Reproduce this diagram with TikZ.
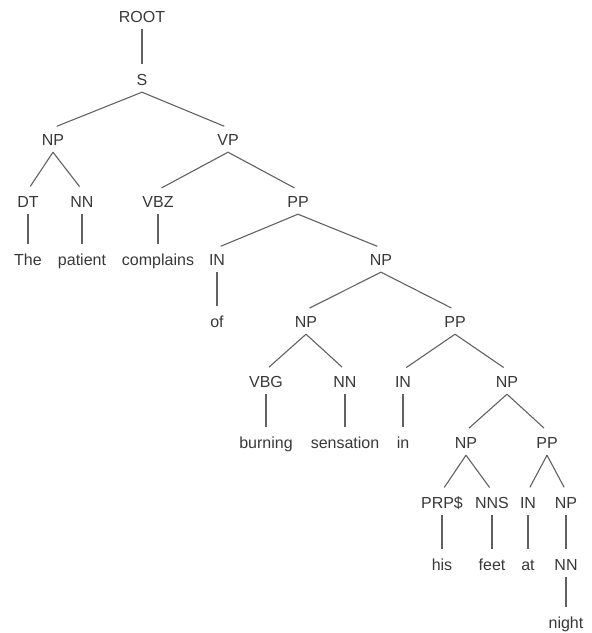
\documentclass[tikz,border=0pt]{standalone}
\usepackage{fontspec}
\setmainfont{Liberation Sans}
\begin{document}
\begin{tikzpicture}[x=1pt,y=-1pt,
  lbl/.style={inner xsep=0pt,inner ysep=6.5pt,text height=11pt,text depth=0pt,
    font=\fontsize{16}{18}\selectfont,text=black!78},
  edge/.style={draw=black!62,line width=1.1pt,shorten >=4pt}]
\useasboundingbox (0,0) rectangle (592,633);
\node[lbl] (root) at (142,17) {ROOT};
\node[lbl] (s) at (142,80) {S};
\node[lbl] (np1) at (53,140) {NP};
\node[lbl] (vp) at (228,140) {VP};
\node[lbl] (dt) at (28,202) {DT};
\node[lbl] (nn1) at (82,202) {NN};
\node[lbl] (vbz) at (158,202) {VBZ};
\node[lbl] (pp1) at (298,202) {PP};
\node[lbl] (the) at (28,260) {The};
\node[lbl] (patient) at (82,260) {patient};
\node[lbl] (complains) at (158,260) {complains};
\node[lbl] (in1) at (217,260) {IN};
\node[lbl] (np2) at (381,260) {NP};
\node[lbl] (of) at (217,322) {of};
\node[lbl] (np3) at (306,322) {NP};
\node[lbl] (pp2) at (455,322) {PP};
\node[lbl] (vbg) at (266,382) {VBG};
\node[lbl] (nn2) at (345,382) {NN};
\node[lbl] (in2) at (403,382) {IN};
\node[lbl] (np4) at (507,382) {NP};
\node[lbl] (burning) at (266,443) {burning};
\node[lbl] (sensation) at (345,443) {sensation};
\node[lbl] (inw) at (403,443) {in};
\node[lbl] (np5) at (466,443) {NP};
\node[lbl] (pp3) at (547,443) {PP};
\node[lbl] (prp) at (442,503) {PRP\$};
\node[lbl] (nns) at (492,503) {NNS};
\node[lbl] (in3) at (528,503) {IN};
\node[lbl] (np6) at (566,503) {NP};
\node[lbl] (his) at (442,565) {his};
\node[lbl] (feet) at (492,565) {feet};
\node[lbl] (at) at (528,565) {at};
\node[lbl] (nn3) at (566,565) {NN};
\node[lbl] (night) at (566,623) {night};
\foreach \a/\b in {root/s,s/np1,s/vp,np1/dt,np1/nn1,vp/vbz,vp/pp1,
  dt/the,nn1/patient,vbz/complains,pp1/in1,pp1/np2,in1/of,np2/np3,np2/pp2,
  np3/vbg,np3/nn2,pp2/in2,pp2/np4,vbg/burning,nn2/sensation,in2/inw,
  np4/np5,np4/pp3,np5/prp,np5/nns,pp3/in3,pp3/np6,prp/his,nns/feet,
  in3/at,np6/nn3,nn3/night}
  \draw[edge] (\a.south) -- (\b.north);
\end{tikzpicture}
\end{document}
